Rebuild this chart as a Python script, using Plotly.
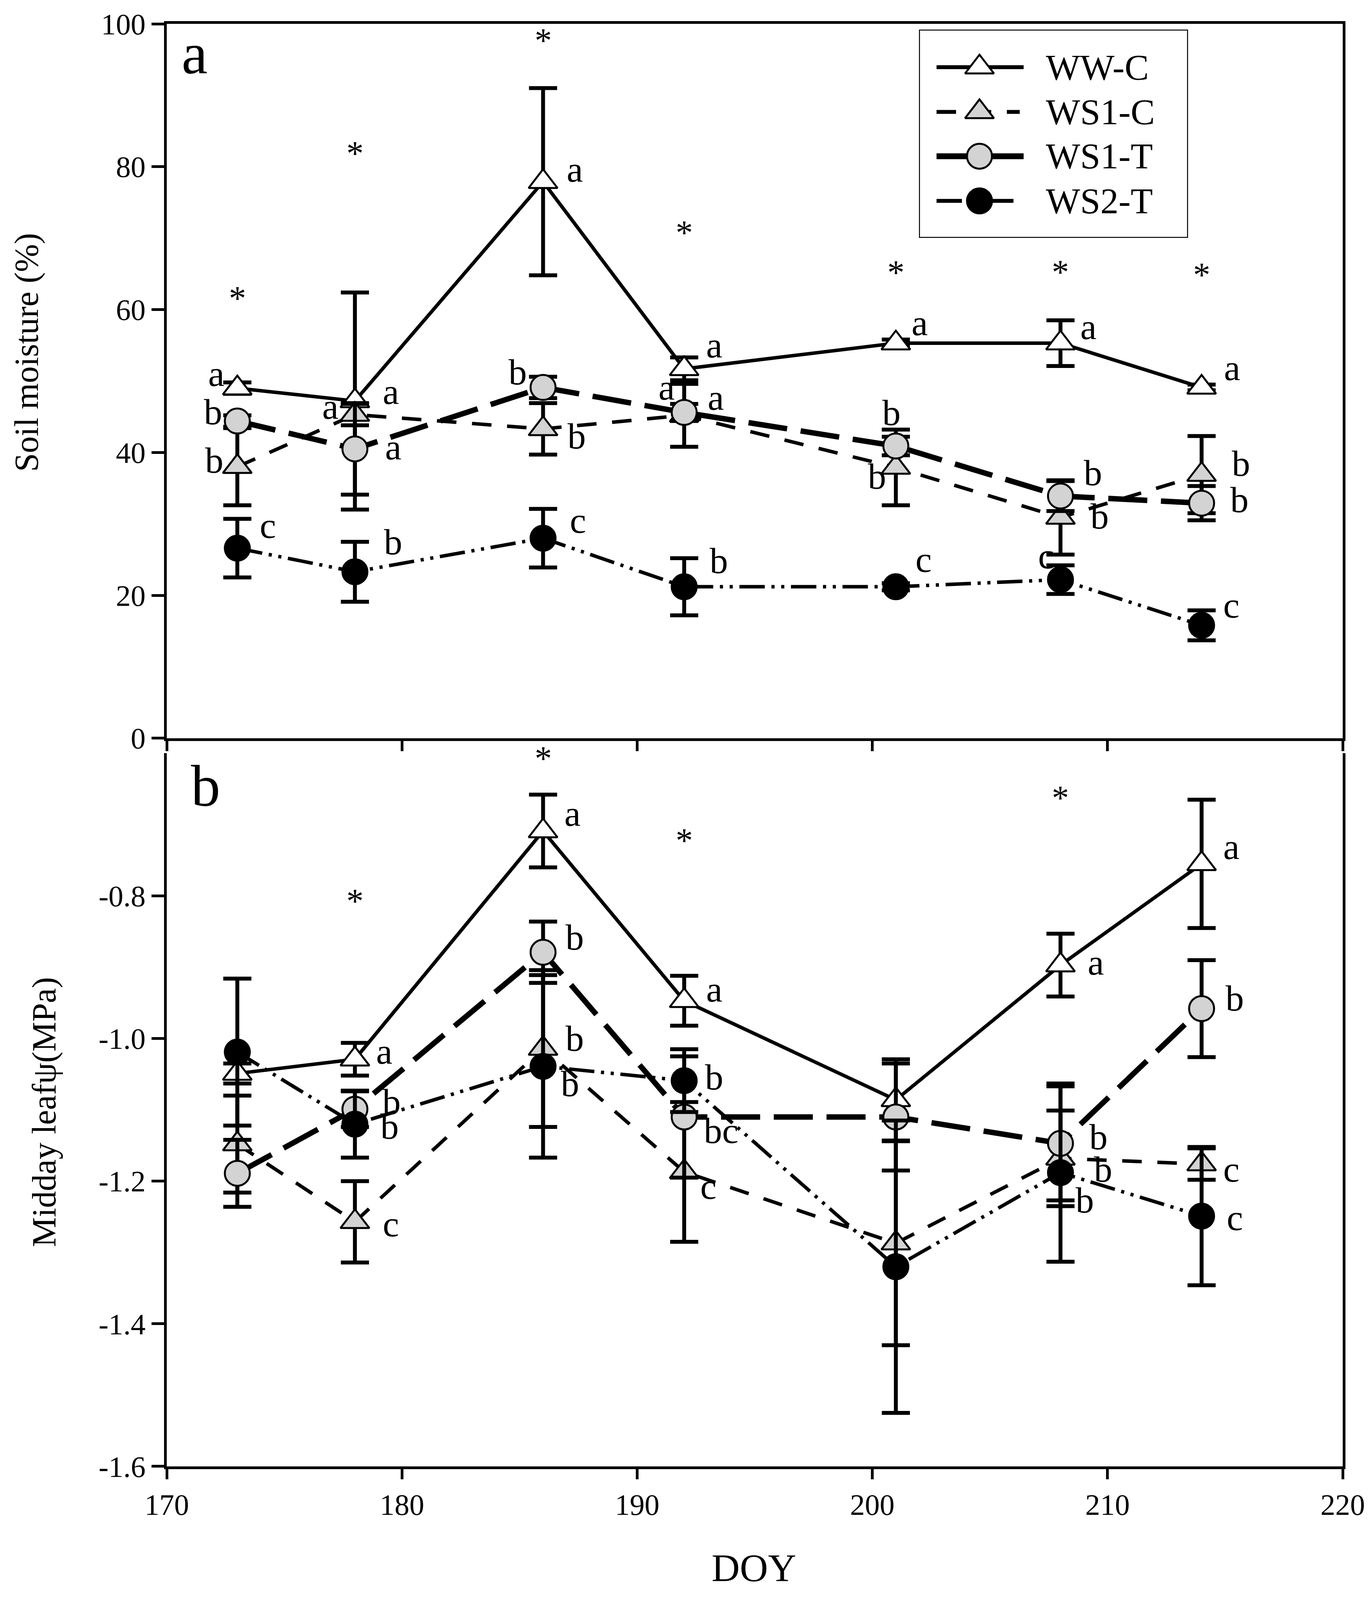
import plotly.graph_objects as go

# ── Data ──────────────────────────────────────────────────────────────────────
DOY = [173, 178, 186, 192, 201, 208, 214]
SERIES = ["WW-C", "WS1-C", "WS1-T", "WS2-T"]

# panel a: soil moisture (%) and error bars
SM_WWC = [49.0, 47.2, 77.9, 51.7, 55.3, 55.3, 49.1]
SM_WWC_ERR = [0.8, 15.2, 13.1, 1.6, 0.5, 3.2, 0.4]
SM_WS1C = [38.0, 45.3, 43.3, 45.2, 37.9, 30.9, 36.9]
SM_WS1C_ERR = [5.4, 1.5, 3.6, 4.4, 5.3, 5.2, 5.4]
SM_WS1T = [44.4, 40.5, 49.1, 45.6, 40.9, 33.9, 32.9]
SM_WS1T_ERR = [0.8, 6.4, 1.5, 1.2, 1.3, 2.1, 2.4]
SM_WS2T = [26.6, 23.3, 28.0, 21.2, 21.2, 22.2, 15.8]
SM_WS2T_ERR = [4.1, 4.2, 4.1, 4.0, 0.5, 2.0, 2.1]

SM_LETTERS = {
    "WW-C":  ["a", "a", "a", "a", "a", "a", "a"],
    "WS1-C": ["b", "a", "b", "a", "b", "b", "b"],
    "WS1-T": ["b", "a", "b", "a", "b", "b", "b"],
    "WS2-T": ["c", "b", "c", "b", "c", "c", "c"],
}
SM_STAR_DOY = [173, 178, 186, 192, 201, 208, 214]
SM_STAR_Y = [62.3, 82.6, 98.4, 71.5, 65.9, 66.0, 65.6]

# panel b: midday leaf water potential (MPa)
LWP_WWC = [-1.049, -1.029, -0.709, -0.947, -1.086, -0.897, -0.755]
LWP_WWC_ERR = [0.014, 0.023, 0.051, 0.035, 0.057, 0.044, 0.09]
LWP_WS1C = [-1.148, -1.257, -1.014, -1.187, -1.287, -1.168, -1.176]
LWP_WS1C_ERR = [0.068, 0.057, 0.11, 0.098, 0.143, 0.067, 0.022]
LWP_WS1T = [-1.189, -1.099, -0.879, -1.110, -1.110, -1.147, -0.958]
LWP_WS1T_ERR = [0.047, 0.025, 0.043, 0.085, 0.075, 0.08, 0.068]
LWP_WS2T = [-1.019, -1.120, -1.039, -1.059, -1.320, -1.188, -1.249]
LWP_WS2T_ERR = [0.103, 0.047, 0.128, 0.044, 0.205, 0.125, 0.097]

LWP_LETTERS = {
    "WW-C":  ["", "a", "a", "a", "", "a", "a"],
    "WS1-C": ["", "c", "b", "c", "", "b", "c"],
    "WS1-T": ["", "b", "b", "bc", "", "b", "b"],
    "WS2-T": ["", "b", "b", "b", "", "b", "c"],
}
LWP_STAR_DOY = [178, 186, 192, 208, 214]
LWP_STAR_Y = [-0.80, -0.60, -0.715, -0.655, -0.599]

SM_TICKS = [0, 20, 40, 60, 80, 100]
LWP_TICKS = [-1.6, -1.4, -1.2, -1.0, -0.8]
LWP_TICKTEXT = ["-1.6", "-1.4", "-1.2", "-1.0", "-0.8"]
DOY_TICKS = [170, 180, 190, 200, 210, 220]

# ── Layout constants ─────────────────────────────────────────────────────────
# positions below are measured in reference pixels (3513 x 4941); the page
# that gets photographed only shows about 4090 px of height, so the vertical
# direction is scaled by SY to keep the whole figure in view.
FONT = "Liberation Serif"
W, REF_H = 3513, 4941
H = 4080
SY = H / REF_H

REF_T, REF_B = 48, 4537          # top frame and bottom axis in reference px
ML, MR = 419, 83
MT, MB = round(REF_T * SY), round((REF_H - REF_B) * SY)
PW = W - ML - MR


def px_x(x):
    return (x - ML) / PW


def px_y(y):
    return 1 - (y - REF_T) / (REF_B - REF_T)


STYLE = {
    "WW-C":  dict(symbol="triangle-up", fill="white",   dash="solid", width=9,
                  size=64),
    "WS1-C": dict(symbol="triangle-up", fill="#d3d3d3", dash="50px,40px", width=9,
                  size=64),
    "WS1-T": dict(symbol="circle",      fill="#d3d3d3", dash="100px,35px", width=14,
                  size=64),
    "WS2-T": dict(symbol="circle",      fill="black",
                  dash="65px,17px,8px,17px,8px,17px", width=9, size=64),
}

# letter offsets (px right, px up, in reference px) from each point
SM_OFFS = {
    "WW-C":  [(-54, 34), (92, 19), (81, 27), (77, 63), (61, 52), (72, 40), (78, 50)],
    "WS1-C": [(-59, 9), (-63, 15), (86, -33), (-45, 76), (-48, -38), (100, -7), (101, 24)],
    "WS1-T": [(-62, 18), (98, -5), (-65, 37), (81, 36), (-11, 93), (83, 61), (97, 0)],
    "WS2-T": [(78, 59), (98, 82), (89, 44), (89, 70), (71, 73), (-36, 62), (76, 51)],
}
LWP_OFFS = {
    "WW-C":  [(0, 0), (75, 13), (75, 44), (77, 25), (0, 0), (91, -2), (76, 43)],
    "WS1-C": [(0, 0), (92, -18), (81, 21), (62, -56), (0, 0), (109, -45), (76, -27)],
    "WS1-T": [(0, 0), (94, 12), (81, 35), (95, -53), (0, 0), (97, 9), (85, 21)],
    "WS2-T": [(0, 0), (89, -18), (69, -65), (77, 0), (0, 0), (62, -96), (85, -16)],
}

SM = {"WW-C": (SM_WWC, SM_WWC_ERR), "WS1-C": (SM_WS1C, SM_WS1C_ERR),
      "WS1-T": (SM_WS1T, SM_WS1T_ERR), "WS2-T": (SM_WS2T, SM_WS2T_ERR)}
LWP = {"WW-C": (LWP_WWC, LWP_WWC_ERR), "WS1-C": (LWP_WS1C, LWP_WS1C_ERR),
       "WS1-T": (LWP_WS1T, LWP_WS1T_ERR), "WS2-T": (LWP_WS2T, LWP_WS2T_ERR)}

fig = go.Figure()

# ── Series ───────────────────────────────────────────────────────────────────
for data, xa, ya in [(SM, "x", "y"), (LWP, "x2", "y2")]:
    for name in SERIES:
        vals, err = data[name]
        st = STYLE[name]
        fig.add_trace(go.Scatter(
            x=DOY, y=vals, xaxis=xa, yaxis=ya, name=name,
            mode="lines+markers",
            line=dict(color="black", width=st["width"], dash=st["dash"]),
            marker=dict(symbol=st["symbol"], size=st["size"], color=st["fill"],
                        line=dict(color="black", width=5)),
            error_y=dict(type="data", array=err, color="black",
                         thickness=10, width=36),
            showlegend=False, cliponaxis=False,
        ))

# ── Letters and asterisks ────────────────────────────────────────────────────
LETTER_SIZE = 94
letter_font = dict(family=FONT, size=LETTER_SIZE, color="black")
for data, letters, offs, xr, yr in [(SM, SM_LETTERS, SM_OFFS, "x", "y"),
                                    (LWP, LWP_LETTERS, LWP_OFFS, "x2", "y2")]:
    for name in SERIES:
        vals = data[name][0]
        for x, v, t, (dx, dy) in zip(DOY, vals, letters[name], offs[name]):
            if not t:
                continue
            fig.add_annotation(x=x, y=v, xref=xr, yref=yr, text=t, showarrow=False,
                               xanchor="center", yanchor="middle",
                               xshift=dx, yshift=dy * SY + 0.1 * LETTER_SIZE,
                               font=letter_font)

STAR_SIZE = 88
for xs, ys, xr, yr in [(SM_STAR_DOY, SM_STAR_Y, "x", "y"),
                       (LWP_STAR_DOY, LWP_STAR_Y, "x2", "y2")]:
    for x, y in zip(xs, ys):
        fig.add_annotation(x=x, y=y, xref=xr, yref=yr, text="*", showarrow=False,
                           xanchor="center", yanchor="middle",
                           yshift=-0.15 * STAR_SIZE,
                           font=dict(family=FONT, size=STAR_SIZE, color="black"))

# panel labels
panel_font = dict(family=FONT, size=150, color="black")
fig.add_annotation(x=px_x(490), y=px_y(140), xref="paper", yref="paper", text="a",
                   xanchor="center", yanchor="middle", showarrow=False, font=panel_font)
fig.add_annotation(x=px_x(518), y=px_y(2420), xref="paper", yref="paper", text="b",
                   xanchor="center", yanchor="middle", showarrow=False, font=panel_font)

# axis titles
title_font = dict(family=FONT, size=86, color="black")
fig.add_annotation(x=px_x(60), y=px_y(1070), xref="paper", yref="paper",
                   text="Soil moisture (%)", textangle=-90, showarrow=False,
                   xanchor="center", yanchor="middle", font=title_font)
fig.add_annotation(x=px_x(105), y=px_y(3434), xref="paper", yref="paper",
                   text="Midday leafψ(MPa)", textangle=-90, showarrow=False,
                   xanchor="center", yanchor="middle", font=title_font)
fig.add_annotation(x=px_x(1922), y=px_y(4852), xref="paper", yref="paper",
                   text="DOY", showarrow=False, xanchor="center", yanchor="middle",
                   font=dict(family=FONT, size=100, color="black"))

# ── Legend (drawn in its own pixel-scaled axes) ──────────────────────────────
LEG_X0, LEG_X1, LEG_Y0, LEG_Y1 = 2345, 3034, 66, 714
LEG_ROWS = [183, 322, 460, 599]
LEG_LINE_X = [(2390, 2613), (2390, 2603), (2390, 2613), (2390, 2595)]
LEG_MARK_X = 2500
LEG_TEXT_X = 2668

for name, yrow, (lx0, lx1) in zip(SERIES, LEG_ROWS, LEG_LINE_X):
    st = STYLE[name]
    fig.add_trace(go.Scatter(
        x=[lx0, lx1], y=[yrow, yrow], xaxis="x3", yaxis="y3", mode="lines",
        line=dict(color="black", width=st["width"] + 1, dash=st["dash"]),
        showlegend=False, hoverinfo="skip"))
    fig.add_trace(go.Scatter(
        x=[LEG_MARK_X], y=[yrow], xaxis="x3", yaxis="y3", mode="markers",
        marker=dict(symbol=st["symbol"], size=st["size"], color=st["fill"],
                    line=dict(color="black", width=5)),
        showlegend=False, hoverinfo="skip"))
    fig.add_annotation(x=LEG_TEXT_X, y=yrow, xref="x3", yref="y3", text=name,
                       xanchor="left", yanchor="middle", showarrow=False,
                       font=dict(family=FONT, size=93, color="black"))

fig.add_shape(type="rect", xref="x3", yref="y3", x0=LEG_X0, x1=LEG_X1,
              y0=LEG_Y0, y1=LEG_Y1, line=dict(color="black", width=5))

# ── Layout ───────────────────────────────────────────────────────────────────
axis_common = dict(showline=True, linecolor="black", linewidth=7, ticks="outside",
                   tickwidth=7, tickcolor="black", showgrid=False, zeroline=False,
                   ticklabeloverflow="allow",
                   tickfont=dict(family=FONT, size=76, color="black"))

top_lo = px_y(2271)
bot_hi = px_y(2318)

fig.update_layout(
    width=W, height=H,
    margin=dict(l=ML, r=MR, t=MT, b=MB),
    plot_bgcolor="white", paper_bgcolor="white",
    showlegend=False,
    font=dict(family=FONT, color="black"),
    xaxis=dict(domain=[0, 1], anchor="y", range=[170, 220], tickvals=DOY_TICKS,
               showticklabels=False, mirror=True, ticklen=round(32 * SY), **axis_common),
    yaxis=dict(domain=[top_lo, 1], anchor="x", range=[0, 100], tickvals=SM_TICKS,
               mirror=True, ticklen=32, **axis_common),
    xaxis2=dict(domain=[0, 1], anchor="y2", range=[170, 220], tickvals=DOY_TICKS,
                ticklen=round(32 * SY), **axis_common),
    yaxis2=dict(domain=[0, bot_hi], anchor="x2", range=[-1.6, -0.6], tickvals=LWP_TICKS,
                ticktext=LWP_TICKTEXT, mirror=True, ticklen=32, **axis_common),
    xaxis3=dict(domain=[px_x(LEG_X0), px_x(LEG_X1)], anchor="y3",
                range=[LEG_X0, LEG_X1], visible=False, fixedrange=True),
    yaxis3=dict(domain=[px_y(LEG_Y1), px_y(LEG_Y0)], anchor="x3",
                range=[LEG_Y1, LEG_Y0], visible=False, fixedrange=True),
)

fig.write_html("out.html")
